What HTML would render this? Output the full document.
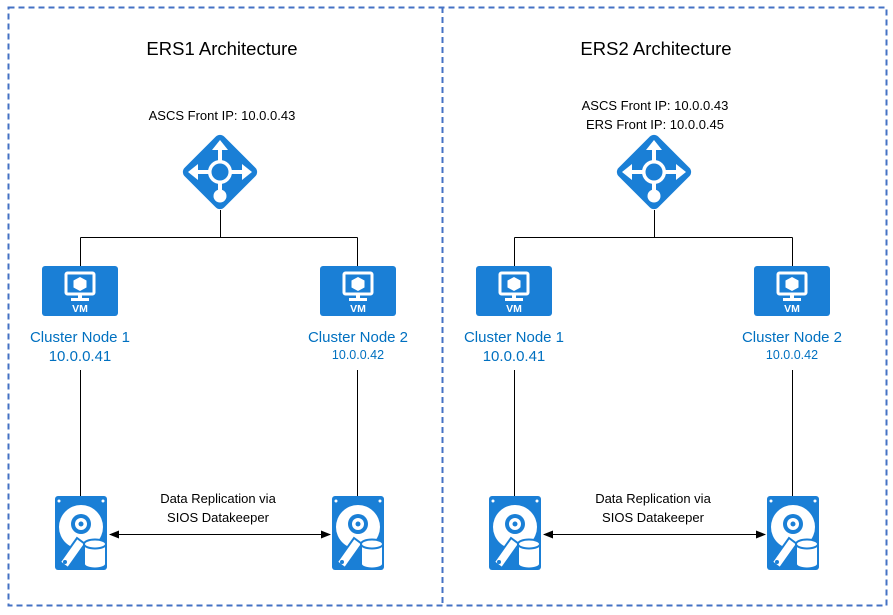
<!DOCTYPE html>
<html><head><meta charset="utf-8"><style>
html,body{margin:0;padding:0;background:#fff;}
svg{display:block;font-family:"Liberation Sans",sans-serif;}
</style></head><body>
<svg width="893" height="615" viewBox="0 0 893 615" xmlns="http://www.w3.org/2000/svg">
<defs>
<g id="lb">
  <rect x="-28" y="-28" width="56" height="56" rx="6" fill="#1a7fd6" transform="rotate(45)"/>
  <g stroke="#fff" stroke-width="4" fill="none">
    <line x1="0" y1="-10" x2="0" y2="-26"/>
    <line x1="-10" y1="0" x2="-26" y2="0"/>
    <line x1="10" y1="0" x2="26" y2="0"/>
    <line x1="0" y1="10" x2="0" y2="20"/>
  </g>
  <g fill="#fff">
    <polygon points="0,-32 -8,-22 8,-22"/>
    <polygon points="-32,0 -22,-8 -22,8"/>
    <polygon points="32,0 22,-8 22,8"/>
    <circle cx="0" cy="0" r="12"/>
    <circle cx="0" cy="24" r="6.5"/>
  </g>
  <circle cx="0" cy="0" r="8.5" fill="#1a7fd6"/>
</g>
<g id="vm">
  <rect x="0" y="0" width="76" height="50" rx="3" fill="#1a7fd6"/>
  <rect x="24" y="7" width="28" height="21" rx="1.5" fill="none" stroke="#fff" stroke-width="3"/>
  <rect x="36" y="28" width="4" height="4" fill="#fff"/>
  <rect x="29" y="32" width="18" height="3" fill="#fff"/>
  <polygon points="38,11 44.5,14.5 44.5,21.5 38,25 31.5,21.5 31.5,14.5" fill="#fff"/>
</g>
<g id="disk">
  <rect x="0" y="0" width="52" height="74" rx="3" fill="#1a7fd6"/>
  <circle cx="4" cy="5" r="1.5" fill="#fff"/>
  <circle cx="48" cy="5" r="1.5" fill="#fff"/>
  <circle cx="26" cy="31" r="22" fill="#fff"/>
  <circle cx="26" cy="28" r="10" fill="#1a7fd6"/>
  <circle cx="26" cy="28" r="6" fill="#fff"/>
  <circle cx="26" cy="28" r="2.5" fill="#1a7fd6"/>
  <path d="M5,66 L22,42 L30,48 L13,72 Z" fill="#fff" stroke="#1a7fd6" stroke-width="2"/>
  <circle cx="10" cy="66" r="2" fill="#1a7fd6"/>
  <path d="M29,48 L29,68 A11,4.5 0 0 0 51,68 L51,48 Z" fill="#fff" stroke="#1a7fd6" stroke-width="2"/>
  <ellipse cx="40" cy="48" rx="11" ry="4.5" fill="#fff" stroke="#1a7fd6" stroke-width="2"/>
</g>
<marker id="ah" markerWidth="10" markerHeight="8" refX="9" refY="4" orient="auto-start-reverse" markerUnits="userSpaceOnUse">
  <polygon points="0,0 10,4 0,8" fill="#000"/>
</marker>
</defs>

<rect x="8.5" y="7.5" width="878" height="598" fill="none" stroke="#4472c4" stroke-width="2" stroke-dasharray="6,4"/>
<line x1="442.5" y1="7" x2="442.5" y2="606" stroke="#4472c4" stroke-width="2" stroke-dasharray="6,4"/>

<!-- Left panel -->
<text x="222" y="55" font-size="18.5" text-anchor="middle" fill="#000">ERS1 Architecture</text>
<text x="222" y="120" font-size="13" text-anchor="middle" fill="#000">ASCS Front IP: 10.0.0.43</text>
<use href="#lb" x="220" y="172"/>
<g stroke="#000" stroke-width="1" fill="none">
  <path d="M220.5,210 V237.5 M80.5,237.5 H357.5 M80.5,237.5 V266 M357.5,237.5 V266"/>
  <path d="M80.5,370 V496 M357.5,370 V496"/>
</g>
<use href="#vm" x="42" y="266"/>
<use href="#vm" x="320" y="266"/>
<text x="80" y="342" font-size="15" text-anchor="middle" fill="#0070c0">Cluster Node 1</text>
<text x="80" y="361" font-size="15" text-anchor="middle" fill="#0070c0">10.0.0.41</text>
<text x="358" y="342" font-size="15" text-anchor="middle" fill="#0070c0">Cluster Node 2</text>
<text x="358" y="359" font-size="12.5" text-anchor="middle" fill="#0070c0">10.0.0.42</text>
<use href="#disk" x="55" y="496"/>
<use href="#disk" x="332" y="496"/>
<line x1="110" y1="534.5" x2="330" y2="534.5" stroke="#000" stroke-width="1" marker-start="url(#ah)" marker-end="url(#ah)"/>
<text x="218" y="503" font-size="13" text-anchor="middle" fill="#000">Data Replication via</text>
<text x="218" y="522" font-size="13" text-anchor="middle" fill="#000">SIOS Datakeeper</text>

<!-- Right panel -->
<text x="656" y="55" font-size="18.5" text-anchor="middle" fill="#000">ERS2 Architecture</text>
<text x="655" y="110" font-size="13" text-anchor="middle" fill="#000">ASCS Front IP: 10.0.0.43</text>
<text x="655" y="129" font-size="13" text-anchor="middle" fill="#000">ERS Front IP:  10.0.0.45</text>
<use href="#lb" x="654" y="172"/>
<g stroke="#000" stroke-width="1" fill="none">
  <path d="M654.5,210 V237.5 M514.5,237.5 H792.5 M514.5,237.5 V266 M792.5,237.5 V266"/>
  <path d="M514.5,370 V496 M792.5,370 V496"/>
</g>
<use href="#vm" x="476" y="266"/>
<use href="#vm" x="754" y="266"/>
<text x="514" y="342" font-size="15" text-anchor="middle" fill="#0070c0">Cluster Node 1</text>
<text x="514" y="361" font-size="15" text-anchor="middle" fill="#0070c0">10.0.0.41</text>
<text x="792" y="342" font-size="15" text-anchor="middle" fill="#0070c0">Cluster Node 2</text>
<text x="792" y="359" font-size="12.5" text-anchor="middle" fill="#0070c0">10.0.0.42</text>
<use href="#disk" x="489" y="496"/>
<use href="#disk" x="767" y="496"/>
<line x1="544" y1="534.5" x2="765" y2="534.5" stroke="#000" stroke-width="1" marker-start="url(#ah)" marker-end="url(#ah)"/>
<text x="653" y="503" font-size="13" text-anchor="middle" fill="#000">Data Replication via</text>
<text x="653" y="522" font-size="13" text-anchor="middle" fill="#000">SIOS Datakeeper</text>

<g font-size="10.5" font-weight="bold" fill="#fff" text-anchor="middle">
  <text x="80" y="312">VM</text>
  <text x="358" y="312">VM</text>
  <text x="514" y="312">VM</text>
  <text x="792" y="312">VM</text>
</g>
</svg>
</body></html>
